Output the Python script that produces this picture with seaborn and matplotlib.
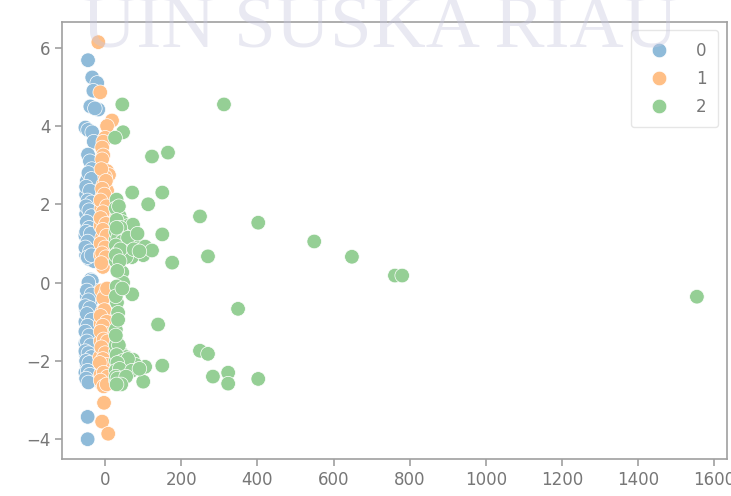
import matplotlib
matplotlib.use("Agg")
import matplotlib.pyplot as plt
import seaborn as sns
import pandas as pd

# cluster 0 (blue)
x0 = [-45, -34, -21, -31, -39, -18, -27, -52, -45, -34, -30, -45, -40, -35, -48, -42, -30, -50, -38, -45,
      -33, -50, -40, -47, -35, -52, -42, -48, -36, -50, -42, -30, -38, -35, -42, -28, -48, -38, -50, -44,
      -52, -40, -48, -36, -52, -44, -50, -40, -48, -38, -52, -44, -36, -46, -46, -30, -44, -36,
      -44, -36, -50, -40, -46, -36, -50, -42, -36, -48, -42, -50, -38, -46, -52, -40, -46, -36,
      -44, -48, -36, -44, -52, -40, -48, -36, -46, -52, -42, -48, -38, -52, -44, -36, -50, -42, -46, -40, -50, -44]
y0 = [5.68, 5.24, 5.1, 4.9, 4.5, 4.42, 4.45, 3.96, 3.9, 3.84, 3.6, 3.27, 3.1, 2.9, 2.6, 2.5, 2.4, 2.25, 2.2, 2.0,
      1.9, 1.75, 1.6, 1.45, 1.35, 1.2, 1.1, 0.95, 0.85, 0.7, 0.6, 0.55, 0.08, 0.05, -0.1, -0.2, -0.35, -0.5, -0.7, -0.85,
      -1.0, -1.15, -1.3, -1.4, -1.55, -1.7, -1.85, -1.95, -2.1, -2.2, -2.3, -2.4, -2.5, -3.43, -4.0, 2.7, 1.3, -1.05,
      2.8, 2.65, 2.45, 2.35, 2.1, 2.05, 1.95, 1.85, 1.7, 1.55, 1.4, 1.3, 1.25, 1.05, 0.9, 0.8, 0.65, 0.7,
      0.0, -0.2, -0.3, -0.45, -0.6, -0.65, -0.8, -0.95, -1.1, -1.25, -1.35, -1.5, -1.6, -1.75, -1.8, -1.9,
      -2.0, -2.05, -2.25, -2.35, -2.45, -2.55]

# cluster 1 (orange)
x1 = [-18, -13, 18, 5, 0, -5, -8, -5, -8, 5, 10, 0, -5, 5, -8, 0, -10, 3, -5, -12,
      0, -8, 5, -5, -12, 0, -6, -10, 0, -5, 5, -8, 0, -12, 5, -6, -12, 2, -8, -14,
      0, -8, 5, -12, -2, -8, 0, -3, -8, 8,
      -10, 2, -8, -2, -12, 4, -6, -12, 2, -6, 4, -12, 0, -8, 2, -10,
      -2, -12, 4, -6, 0, -12, -4, 6, -10, 0, -6, 4, -14, -4, 6, -12, -4, 4]
y1 = [6.14, 4.86, 4.14, 4.0, 3.7, 3.6, 3.45, 3.25, 3.15, 2.85, 2.75, 2.7, 2.5, 2.35, 2.2, 2.05, 1.9, 1.75, 1.6, 1.45,
      1.3, 1.15, 1.0, 0.85, 0.7, 0.55, 0.4, -0.2, -0.3, -0.4, -0.15, -0.75, -0.9, -1.05, -1.2, -1.35, -1.5, -1.6, -1.75, -1.9,
      -2.0, -2.15, -2.25, -2.35, -2.45, -2.6, -2.55, -3.07, -3.55, -3.86,
      2.9, 2.6, 2.4, 2.25, 2.1, 1.95, 1.8, 1.65, 1.5, 1.35, 1.2, 1.0, 0.9, 0.75, 0.65, 0.5,
      -0.7, -0.85, -1.0, -1.1, -1.3, -1.25, -1.45, -1.5, -1.65, -1.8, -1.95, -2.1, -2.05, -2.3, -2.4, -2.5, -2.65, -2.6]

# cluster 2 (green)
x2 = [30, 30, 38, 28, 45, 60, 73, 34, 50, 28, 40, 80, 60, 30, 48, 100, 36, 70, 28, 105,
      30, 28, 42, 55, 28, 38, 73, 105, 150, 32, 50, 28, 31, 100, 60, 80, 45, 30,
      45, 47, 71, 31, 34, 349, 139, 30, 28,
      45, 312, 47, 26, 123, 165, 71, 150, 113, 249, 402, 150, 123, 176, 270, 549, 648, 761, 780, 1554,
      249, 270, 283, 323, 323, 402,
      28, 36, 30, 40, 28, 34, 45, 60, 28, 32, 55, 40, 75, 90, 28, 38, 85, 30,
      28, 36, 30, 45, 60, 32, 28, 38, 70, 28, 32, 55, 90, 42, 30,
      32, 28, 34, 28, 45]
y2 = [2.12, 1.85, 1.7, 1.5, 1.55, 1.45, 1.48, 1.3, 1.2, 1.1, 1.0, 1.05, 0.9, 0.85, 0.75, 0.7, 0.6, 0.65, 0.55, 0.92,
      -1.5, -1.75, -1.8, -1.9, -2.0, -2.05, -1.97, -2.15, -2.12, -2.3, -2.3, -2.5, -2.56, -2.53, -2.15, -2.1, -2.45, -2.2,
      0.26, 0.0, -0.3, -0.51, -0.77, -0.67, -1.07, -0.1, -1.2,
      4.55, 4.55, 3.84, 3.7, 3.22, 3.32, 2.3, 2.3, 2.0, 1.69, 1.53, 1.23, 0.82, 0.51, 0.67, 1.05, 0.66, 0.18, 0.18, -0.36,
      -1.74, -1.82, -2.4, -2.3, -2.58, -2.46,
      1.9, 1.95, 1.6, 1.4, 1.3, 1.15, 1.05, 1.15, 0.95, 0.75, 0.65, 0.85, 0.85, 0.8, 0.7, 0.55, 1.25, 1.4,
      -1.6, -1.6, -1.85, -2.0, -1.95, -2.05, -2.25, -2.2, -2.25, -2.4, -2.45, -2.4, -2.2, -2.6, -2.6,
      0.3, -0.35, -0.95, -1.35, -0.15]

clusters = ["0", "1", "2"]
colors = ["#8fbbd9", "#ffbf86", "#95cf95"]

df = pd.DataFrame({
    "x": x0 + x1 + x2,
    "y": y0 + y1 + y2,
    "cluster": [clusters[0]] * len(x0) + [clusters[1]] * len(x1) + [clusters[2]] * len(x2),
})

sns.set_style("ticks")
plt.rcParams["font.family"] = ["DejaVu Sans"]

fig, ax = plt.subplots(figsize=(7.31, 4.96), dpi=100)
fig.subplots_adjust(left=0.085, right=0.994, bottom=0.075, top=0.956)

sns.scatterplot(data=df, x="x", y="y", hue="cluster", hue_order=clusters,
                palette=dict(zip(clusters, colors)),
                s=110, edgecolor="white", linewidth=0.5, ax=ax)

ax.set_xlim(-113, 1632)
ax.set_ylim(-4.5, 6.66)
ax.set_xticks(range(0, 1601, 200))
ax.set_yticks(range(-4, 7, 2))
ax.set_xlabel("")
ax.set_ylabel("")

for sp in ax.spines.values():
    sp.set_color("#a0a0a0")
    sp.set_linewidth(1.2)
ax.tick_params(colors="#a0a0a0", labelcolor="#777777", labelsize=12, length=5, width=1.2)

handles, labels = ax.get_legend_handles_labels()
leg = ax.legend(handles, labels, loc="upper right", fontsize=12, frameon=True,
                handletextpad=1.2, borderpad=0.7, labelspacing=0.6)
leg.get_frame().set_edgecolor("#e0e0e0")
for t in leg.get_texts():
    t.set_color("#777777")

# watermark
fig.text(0.52, 0.905, "UIN SUSKA RIAU", family="Liberation Serif", fontsize=54,
         color="#c8c8e0", alpha=0.4, ha="center", va="baseline")

fig.savefig("out.png", dpi=100)
